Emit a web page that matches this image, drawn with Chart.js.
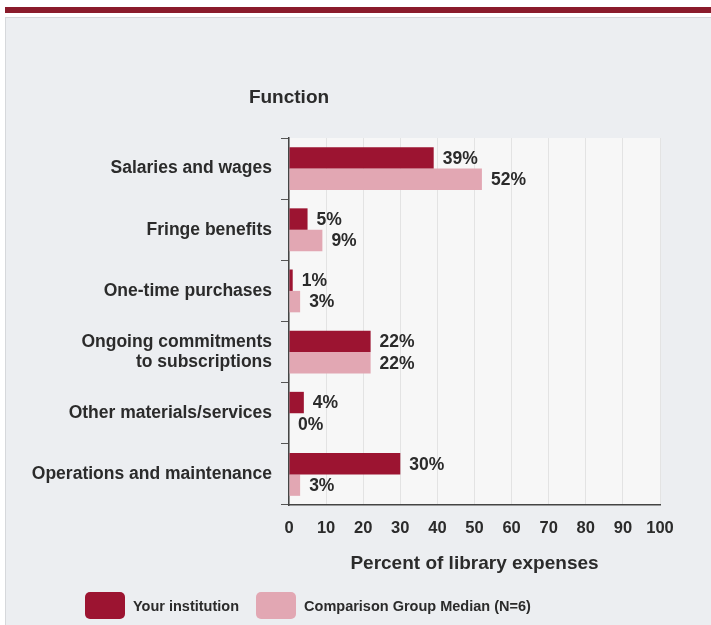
<!DOCTYPE html>
<html>
<head>
<meta charset="utf-8">
<script src="https://cdn.jsdelivr.net/npm/chart.js@4/dist/chart.umd.min.js"></script>
<style>
  html, body { margin: 0; padding: 0; background: #fff; }
  body { width: 711px; height: 625px; position: relative; overflow: hidden; font-family: 'Liberation Sans', Arial, sans-serif; }
  .stripe { position: absolute; left: 5px; right: 0; top: 7px; height: 6px; background: #8a1b2b; }
  .panel { position: absolute; left: 5px; right: 0; top: 17px; bottom: 0; background: #eceef1; border-top: 1px solid #d6d8db; border-left: 1px solid #d6d8db; }
  #chart { position: absolute; left: 0; top: 0; }
  .legend { position: absolute; top: 592px; left: 85px; display: flex; align-items: center; font-weight: bold; font-size: 14.5px; color: #2b2b2b; }
  .legend .box { width: 40px; height: 27px; border-radius: 5px; margin-right: 8px; }
  .legend .item { display: flex; align-items: center; margin-right: 17px; }
</style>
</head>
<body>
<div class="stripe"></div>
<div class="panel"></div>
<canvas id="chart" width="711" height="625"></canvas>
<div class="legend" id="legend"></div>
<script>
document.addEventListener('DOMContentLoaded', function () {

  // ===== Data =====
  const categories = [
    'Salaries and wages',
    'Fringe benefits',
    'One-time purchases',
    ['Ongoing commitments', 'to subscriptions'],
    'Other materials/services',
    'Operations and maintenance',
  ];
  const yourInstitution = [39, 5, 1, 22, 4, 30];
  const comparisonMedian = [52, 9, 3, 22, 0, 3];
  const xTicks = [0, 10, 20, 30, 40, 50, 60, 70, 80, 90, 100];

  const seriesNames = ['Your institution', 'Comparison Group Median (N=6)'];
  const seriesColors = ['#9c1431', '#e2a7b3'];

  const fontFamily = "'Liberation Sans', Arial, sans-serif";
  Chart.defaults.font.family = fontFamily;
  Chart.defaults.color = '#2b2b2b';

  // ===== Plot background + "Function" heading =====
  const backdrop = {
    id: 'backdrop',
    beforeDraw(chart) {
      const { ctx, chartArea: a } = chart;
      ctx.save();
      ctx.fillStyle = '#f7f7f7';
      ctx.fillRect(a.left, a.top, a.right - a.left, a.bottom - a.top);
      ctx.fillStyle = '#2b2b2b';
      ctx.font = 'bold 19px ' + fontFamily;
      ctx.textAlign = 'center';
      ctx.textBaseline = 'middle';
      ctx.fillText('Function', a.left, 98);
      ctx.restore();
    },
  };

  // ===== Value labels at bar ends =====
  const valueLabels = {
    id: 'valueLabels',
    afterDatasetsDraw(chart) {
      const ctx = chart.ctx;
      ctx.save();
      ctx.font = 'bold 17.5px ' + fontFamily;
      ctx.fillStyle = '#2b2b2b';
      ctx.textAlign = 'left';
      ctx.textBaseline = 'middle';
      chart.data.datasets.forEach((ds, i) => {
        chart.getDatasetMeta(i).data.forEach((bar, j) => {
          ctx.fillText(ds.data[j] + '%', bar.x + 9, bar.y + 1);
        });
      });
      ctx.restore();
    },
  };

  new Chart(document.getElementById('chart'), {
    type: 'bar',
    data: {
      labels: categories,
      datasets: [
        { label: seriesNames[0], data: yourInstitution, backgroundColor: seriesColors[0] },
        { label: seriesNames[1], data: comparisonMedian, backgroundColor: seriesColors[1] },
      ],
    },
    options: {
      indexAxis: 'y',
      responsive: false,
      animation: false,
      categoryPercentage: 0.7,
      barPercentage: 1,
      layout: { padding: { top: 138, right: 51, bottom: 48, left: 0 } },
      plugins: {
        legend: { display: false },
        tooltip: { enabled: false },
      },
      scales: {
        x: {
          min: 0,
          max: 100,
          afterBuildTicks: scale => { scale.ticks = xTicks.map(v => ({ value: v })); },
          afterFit: scale => { scale.height = 72; },
          grid: { color: '#e3e3e3', drawTicks: false },
          border: { color: '#444', width: 1.5 },
          ticks: { padding: 14, font: { size: 16.5, weight: 'bold' }, color: '#2b2b2b' },
          title: {
            display: true,
            text: 'Percent of library expenses',
            font: { size: 19, weight: 'bold' },
            color: '#2b2b2b',
            padding: { top: 0, bottom: 2 },
          },
        },
        y: {
          afterFit: scale => { scale.width = 289; },
          grid: { drawOnChartArea: false, tickLength: 8, color: '#555' },
          border: { color: '#444', width: 1.5 },
          ticks: { padding: 9, font: { size: 17.5, weight: 'bold', lineHeight: 1.15 }, color: '#2b2b2b' },
        },
      },
    },
    plugins: [backdrop, valueLabels],
  });

  // ===== Legend =====
  const legend = document.getElementById('legend');
  seriesNames.forEach((name, i) => {
    const item = document.createElement('div');
    item.className = 'item';
    const box = document.createElement('span');
    box.className = 'box';
    box.style.background = seriesColors[i];
    const text = document.createElement('span');
    text.textContent = name;
    item.appendChild(box);
    item.appendChild(text);
    legend.appendChild(item);
  });

});
</script>
</body>
</html>
